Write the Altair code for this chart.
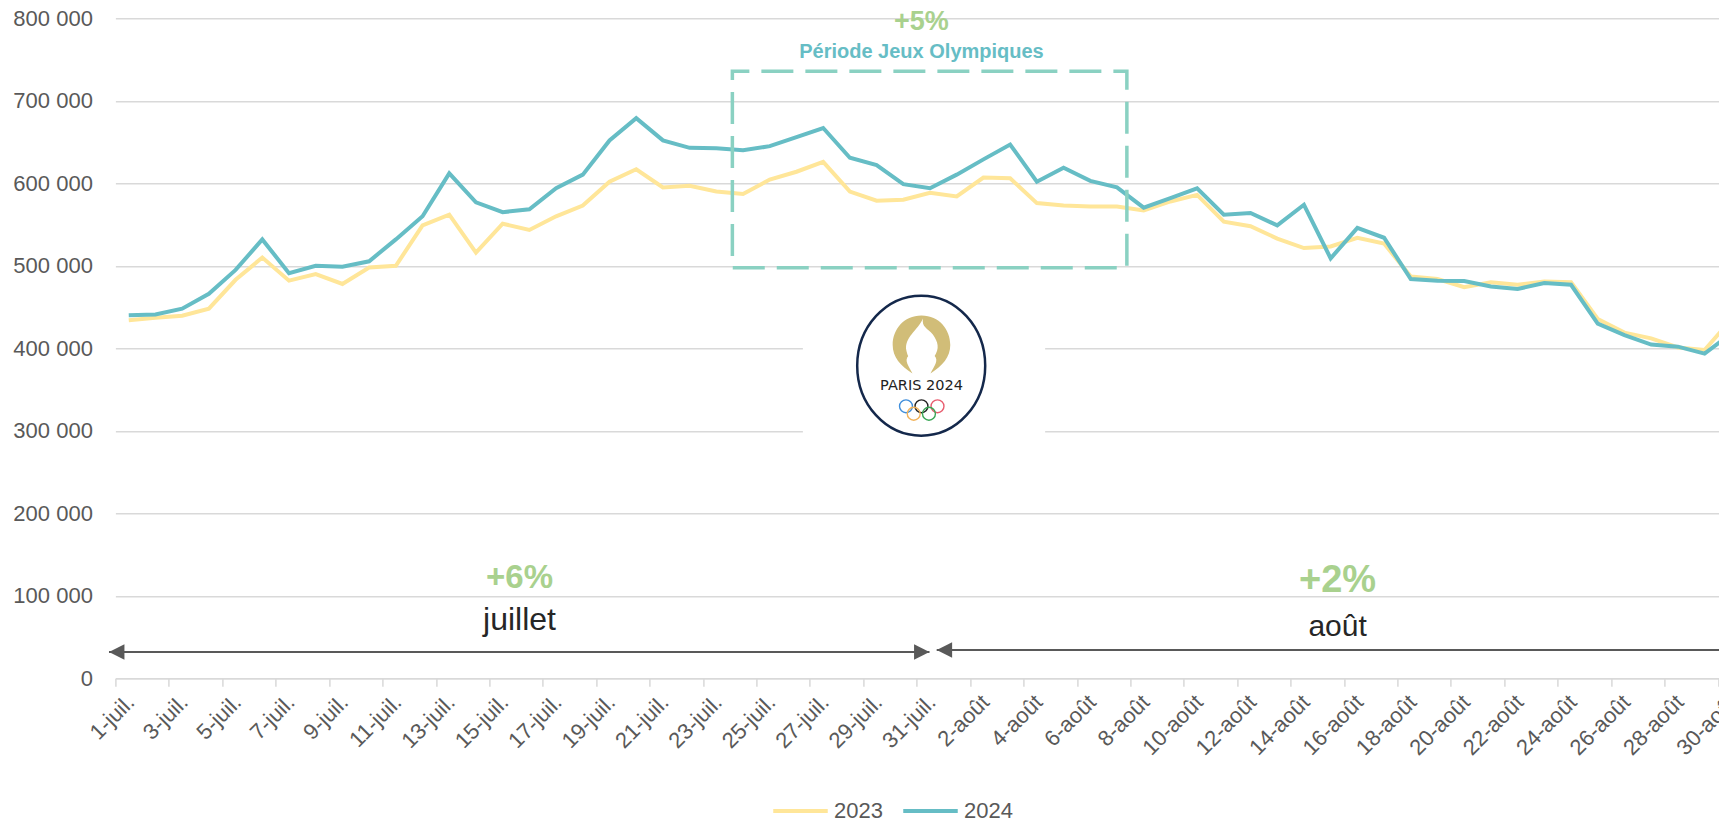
import altair as alt
import pandas as pd

FONT = "Liberation Sans"
values_2023 = [434000, 437000, 439500, 448000, 483000, 510000, 482000, 490000, 478000, 498000, 500000, 549000,
               562000, 516000, 551000, 543500, 560000, 573000, 602000, 617000, 595000, 597000, 590000, 587000,
               604500, 614000, 626000, 590000, 579000, 580000, 588500, 584000, 607000, 606000, 576000, 573000,
               572000, 572000, 567000, 578000, 586000, 553500, 548000, 533000, 521500, 523500, 534000, 527000,
               487000, 484000, 474000, 480000, 477000, 481000, 480000, 435500, 419000, 412000, 401000, 398000,
               435000]
values_2024 = [440000, 441000, 448000, 466000, 495000, 532000, 491000, 500000, 499000, 505500, 532000, 560000,
               612000, 577000, 565000, 568500, 594000, 610500, 652000, 679000, 652000, 643000, 642500, 640000,
               645000, 656000, 667000, 631000, 622000, 599000, 594000, 610500, 629000, 647000, 602000, 619000,
               603000, 595000, 570500, 582000, 594000, 562000, 564000, 549000, 574000, 509000, 546000, 534000,
               484000, 482000, 481500, 475000, 472000, 479000, 477000, 430000, 416000, 404500, 402000, 393500,
               418000]
tick_labels = [f"{d}-juil." for d in range(1, 32, 2)] + [f"{d}-août" for d in range(2, 31, 2)]

rows = []
for year, vals in (("2023", values_2023), ("2024", values_2024)):
    for i, v in enumerate(vals):
        rows.append({"day": i + 0.5, "value": v, "year": year})
lines_df = pd.DataFrame(rows)

x_scale = alt.Scale(domain=[0, 60.04], nice=False, zero=False)
y_scale = alt.Scale(domain=[0, 800000], nice=False)
labels_js = "[" + ",".join(f"'{t}'" for t in tick_labels) + "]"

x_axis = alt.Axis(values=list(range(0, 61, 2)), labelExpr=f"{labels_js}[round(datum.value/2)]", title=None, grid=False,
                  labelAngle=-45, labelAlign="right", labelBaseline="middle", labelOffset=15, labelPadding=12,
                  labelFontSize=22, labelFont=FONT, labelColor="#595959", labelFlush=False, labelOverlap=False,
                  labelBound=False, tickSize=8, tickColor="#d9d9d9", tickWidth=1.5, domainColor="#d9d9d9", domainWidth=1.5)
y_axis = alt.Axis(values=list(range(0, 800001, 100000)), labelExpr="replace(format(datum.value, ','), ',', ' ')",
                  title=None, grid=True, gridColor="#d9d9d9", gridWidth=1.5, ticks=False, domain=False,
                  labelFontSize=22, labelFont=FONT, labelColor="#595959", labelPadding=23)

# white break in the gridlines behind the logo
gap = alt.Chart(pd.DataFrame({"a": [25.74], "b": [34.81], "lo": [280000], "hi": [425000]})).mark_rect(fill="white").encode(
    x=alt.X("a:Q", scale=x_scale, axis=x_axis), x2="b:Q",
    y=alt.Y("lo:Q", scale=y_scale, axis=y_axis), y2="hi:Q")

lines = alt.Chart(lines_df).mark_line(strokeWidth=4, strokeJoin="miter", clip=True).encode(
    x=alt.X("day:Q", scale=x_scale), y=alt.Y("value:Q", scale=y_scale),
    color=alt.Color("year:N", scale=alt.Scale(domain=["2023", "2024"], range=["#ffe699", "#66bdc5"]),
                    legend=alt.Legend(orient="none", legendX=655.6, legendY=763, direction="horizontal", title=None,
                                      symbolType="stroke", symbolSize=2970, symbolStrokeWidth=4, labelFontSize=22,
                                      labelFont=FONT, labelColor="#595959", labelOffset=4, columnPadding=12)))

box = alt.Chart(pd.DataFrame({"a": [23.10], "b": [37.87], "lo": [497700], "hi": [735760]})).mark_rect(
    fillOpacity=0, stroke="#8ad1c2", strokeWidth=3.5, strokeDash=[32, 12], strokeDashOffset=15).encode(
    x=alt.X("a:Q", scale=x_scale), x2="b:Q", y=alt.Y("lo:Q", scale=y_scale), y2="hi:Q")


def text_layer(label, day, value, size, color, bold=False, font=FONT):
    return alt.Chart(pd.DataFrame({"t": [label], "d": [day], "v": [value]})).mark_text(
        fontSize=size, color=color, font=font, fontWeight="bold" if bold else "normal", align="center", baseline="middle").encode(
        x=alt.X("d:Q", scale=x_scale), y=alt.Y("v:Q", scale=y_scale), text="t:N")


def shape_layer(path, day, value, size, **kw):
    return alt.Chart(pd.DataFrame({"d": [day], "v": [value]})).mark_point(shape=path, size=size, filled=True, opacity=1, **kw).encode(
        x=alt.X("d:Q", scale=x_scale), y=alt.Y("v:Q", scale=y_scale))


texts = [
    text_layer("+5%", 30.18, 795900, 27, "#a9d18e", True),
    text_layer("Période Jeux Olympiques", 30.18, 759100, 20, "#66bdc5", True),
    text_layer("+6%", 15.13, 121600, 33, "#a9d18e", True),
    text_layer("juillet", 15.13, 71000, 32, "#262626"),
    text_layer("+2%", 45.76, 117900, 38, "#a9d18e", True),
    text_layer("août", 45.76, 62200, 30, "#262626"),
]

TRI_L = "M-1,0 L1,-1 L1,1 Z"
TRI_R = "M1,0 L-1,-1 L-1,1 Z"
arrows = []
for a, b, v in ((-0.24, 30.48, 31900), (30.75, 60.5, 34300)):
    arrows.append(alt.Chart(pd.DataFrame({"a": [a], "b": [b], "v": [v]})).mark_rule(color="#595959", strokeWidth=1.8).encode(
        x=alt.X("a:Q", scale=x_scale), x2="b:Q", y=alt.Y("v:Q", scale=y_scale)))
arrows += [shape_layer(TRI_L, 0.05, 31900, 237, fill="#595959"), shape_layer(TRI_R, 30.19, 31900, 237, fill="#595959"),
           shape_layer(TRI_L, 31.04, 34300, 237, fill="#595959"), shape_layer(TRI_R, 60.5, 34300, 237, fill="#595959")]

OVAL = "M-1,0 A1,1.094 0 1,1 1,0 A1,1.094 0 1,1 -1,0 Z"
GOLD = "M0,-0.98 C0.6,-0.98 0.96,-0.5 0.96,0 C0.96,0.4 0.7,0.7 0.3,0.95 C0.42,0.7 0.6,0.5 0.42,0.35 L0.1,0.7 L-0.1,0.7 L-0.42,0.35 C-0.6,0.5 -0.42,0.7 -0.3,0.95 C-0.7,0.7 -0.96,0.4 -0.96,0 C-0.96,-0.5 -0.6,-0.98 0,-0.98 Z"
FLAME = "M0.05,-0.88 C-0.1,-0.5 -0.6,-0.25 -0.5,0.2 C-0.44,0.5 -0.22,0.72 -0.05,0.8 C0.12,0.72 0.3,0.6 0.42,0.4 C0.62,0.1 0.55,-0.1 0.38,-0.35 C0.2,-0.55 0,-0.6 0.05,-0.88 Z"
logo = [shape_layer(OVAL, 30.17, 378900, 16384, fill="white", stroke="#14284b", strokeWidth=2.5),
        shape_layer(GOLD, 30.18, 404000, 3600, fill="#d1bd78"),
        shape_layer(FLAME, 30.18, 404000, 3600, fill="white"),
        text_layer("PARIS 2024", 30.18, 354300, 14.5, "#222222", False, "DejaVu Sans")]
rings = pd.DataFrame({"d": [29.60, 30.18, 30.78, 29.89, 30.46], "v": [329700, 329700, 329700, 320700, 320700],
                      "c": ["#3e8edc", "#222222", "#e85d6f", "#f2b35a", "#3aa655"]})
logo.append(alt.Chart(rings).mark_point(shape="circle", size=167, filled=False, opacity=1, strokeWidth=1.4).encode(
    x=alt.X("d:Q", scale=x_scale), y=alt.Y("v:Q", scale=y_scale), stroke=alt.Stroke("c:N", scale=None)))

chart = alt.layer(gap, lines, box, *arrows, *texts, *logo).properties(
    width=1603.6, height=660, padding={"left": 107.4, "top": 10.3, "right": 0, "bottom": 141.7},
    autosize=alt.AutoSizeParams(type="none"),
).configure_view(stroke=None)

chart.save("out.html", embed_options={"renderer": "svg", "actions": False})
